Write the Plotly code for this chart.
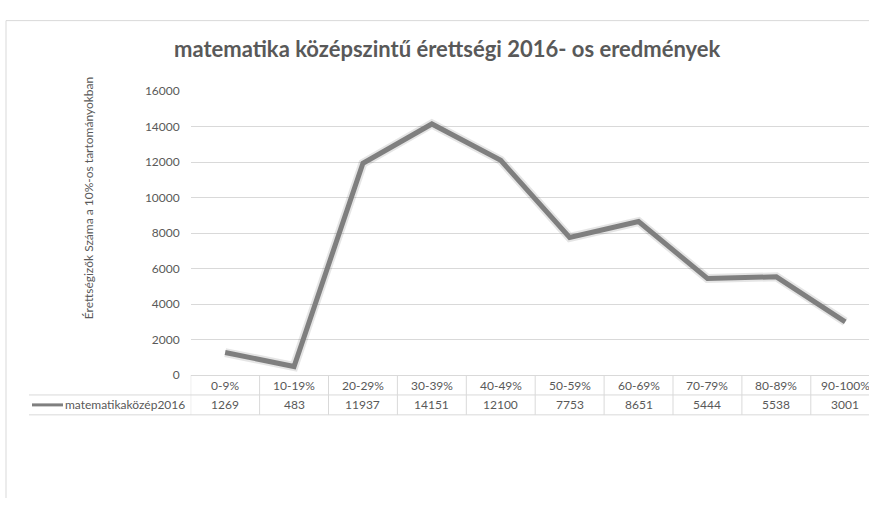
import plotly.graph_objects as go

categories = ["0-9%", "10-19%", "20-29%", "30-39%", "40-49%", "50-59%", "60-69%", "70-79%", "80-89%", "90-100%"]
values = [1269, 483, 11937, 14151, 12100, 7753, 8651, 5444, 5538, 3001]
series_name = "matematikaközép2016"
y_ticks = [0, 2000, 4000, 6000, 8000, 10000, 12000, 14000, 16000]
title = "matematika középszintű érettségi 2016- os eredmények"
y_title = "Érettségizők Száma a 10%-os tartományokban"

W, H = 869, 505
FONT = "Lato, 'Open Sans', sans-serif"
TXT = "#595959"
GRID = "#d9d9d9"

# plot-area geometry in pixels
x0_px = 190.7
col_w = 68.9
y_zero_px = 378.3
y_top_px = 85.7
row_h = 20.5

def py(p):  # pixel from top -> paper
    return (H - p) / H

def px(p):
    return p / W

n = len(categories)
xs = list(range(n))
x_max = -0.5 + (W - x0_px) / col_w

fig = go.Figure()
# soft shadow
fig.add_trace(go.Scatter(x=xs, y=values, mode="lines",
                         line=dict(color="rgba(0,0,0,0.10)", width=9),
                         hoverinfo="skip", showlegend=False))
fig.add_trace(go.Scatter(x=xs, y=values, mode="lines", name=series_name,
                         line=dict(color="#7f7f7f", width=5),
                         showlegend=False))

shapes = []
annotations = []

def ann(**kw):
    d = dict(showarrow=False, xanchor="center", yanchor="middle")
    d.update(kw)
    annotations.append(d)

# outer border of chart
shapes.append(dict(type="line", xref="paper", yref="paper", x0=px(6), x1=1, y0=py(13), y1=py(13),
                   line=dict(color=GRID, width=1)))
shapes.append(dict(type="line", xref="paper", yref="paper", x0=px(6), x1=px(6), y0=py(13), y1=0,
                   line=dict(color=GRID, width=1)))

# table
t_top = y_zero_px
t_mid = y_zero_px + row_h
t_bot = y_zero_px + 2 * row_h
shapes.append(dict(type="line", xref="paper", yref="paper", x0=px(29), x1=1, y0=py(t_mid), y1=py(t_mid),
                   line=dict(color=GRID, width=1)))
shapes.append(dict(type="line", xref="paper", yref="paper", x0=px(29), x1=1, y0=py(t_bot), y1=py(t_bot),
                   line=dict(color=GRID, width=1)))
for i in range(n + 1):
    shapes.append(dict(type="line", xref="x", yref="paper", x0=i - 0.5, x1=i - 0.5,
                       y0=py(t_top), y1=py(t_bot), line=dict(color=GRID, width=1)))
for i, (c, v) in enumerate(zip(categories, values)):
    ann(x=i, y=py(t_top + row_h / 2), xref="x", yref="paper", text=c,
        font=dict(family=FONT, size=12, color=TXT))
    ann(x=i, y=py(t_mid + row_h / 2), xref="x", yref="paper", text=str(v),
        font=dict(family=FONT, size=12, color=TXT))
# legend key in table
shapes.append(dict(type="line", xref="paper", yref="paper", x0=px(32), x1=px(63),
                   y0=py(t_mid + row_h / 2), y1=py(t_mid + row_h / 2),
                   line=dict(color="#7f7f7f", width=3)))
ann(x=px(63), y=py(t_mid + row_h / 2), xref="paper", yref="paper", text=series_name,
    xanchor="left", font=dict(family=FONT, size=12, color=TXT))

# title
ann(x=px(447), y=py(42), xref="paper", yref="paper", text="<b>" + title + "</b>",
    font=dict(family=FONT, size=22, color=TXT))
# y-axis title
ann(x=px(88), y=py(196), xref="paper", yref="paper", text=y_title, textangle=-90,
    font=dict(family=FONT, size=12, color=TXT))

fig.update_layout(
    width=W, height=H, margin=dict(l=0, r=0, t=0, b=0),
    paper_bgcolor="white", plot_bgcolor="white",
    showlegend=False,
    xaxis=dict(domain=[px(x0_px), 1], range=[-0.5, x_max], showticklabels=False,
               showgrid=False, zeroline=False, showline=False, fixedrange=True),
    yaxis=dict(domain=[py(y_zero_px), py(y_top_px)], range=[0, 16000], tickvals=y_ticks,
               ticktext=[str(t) for t in y_ticks],
               tickfont=dict(family=FONT, size=12, color=TXT), showgrid=True, gridcolor=GRID,
               gridwidth=1, zeroline=True, zerolinecolor=GRID, zerolinewidth=1,
               showline=False, ticks="", ticklabelstandoff=10),
    shapes=shapes, annotations=annotations,
)

fig.write_html("out.html")
